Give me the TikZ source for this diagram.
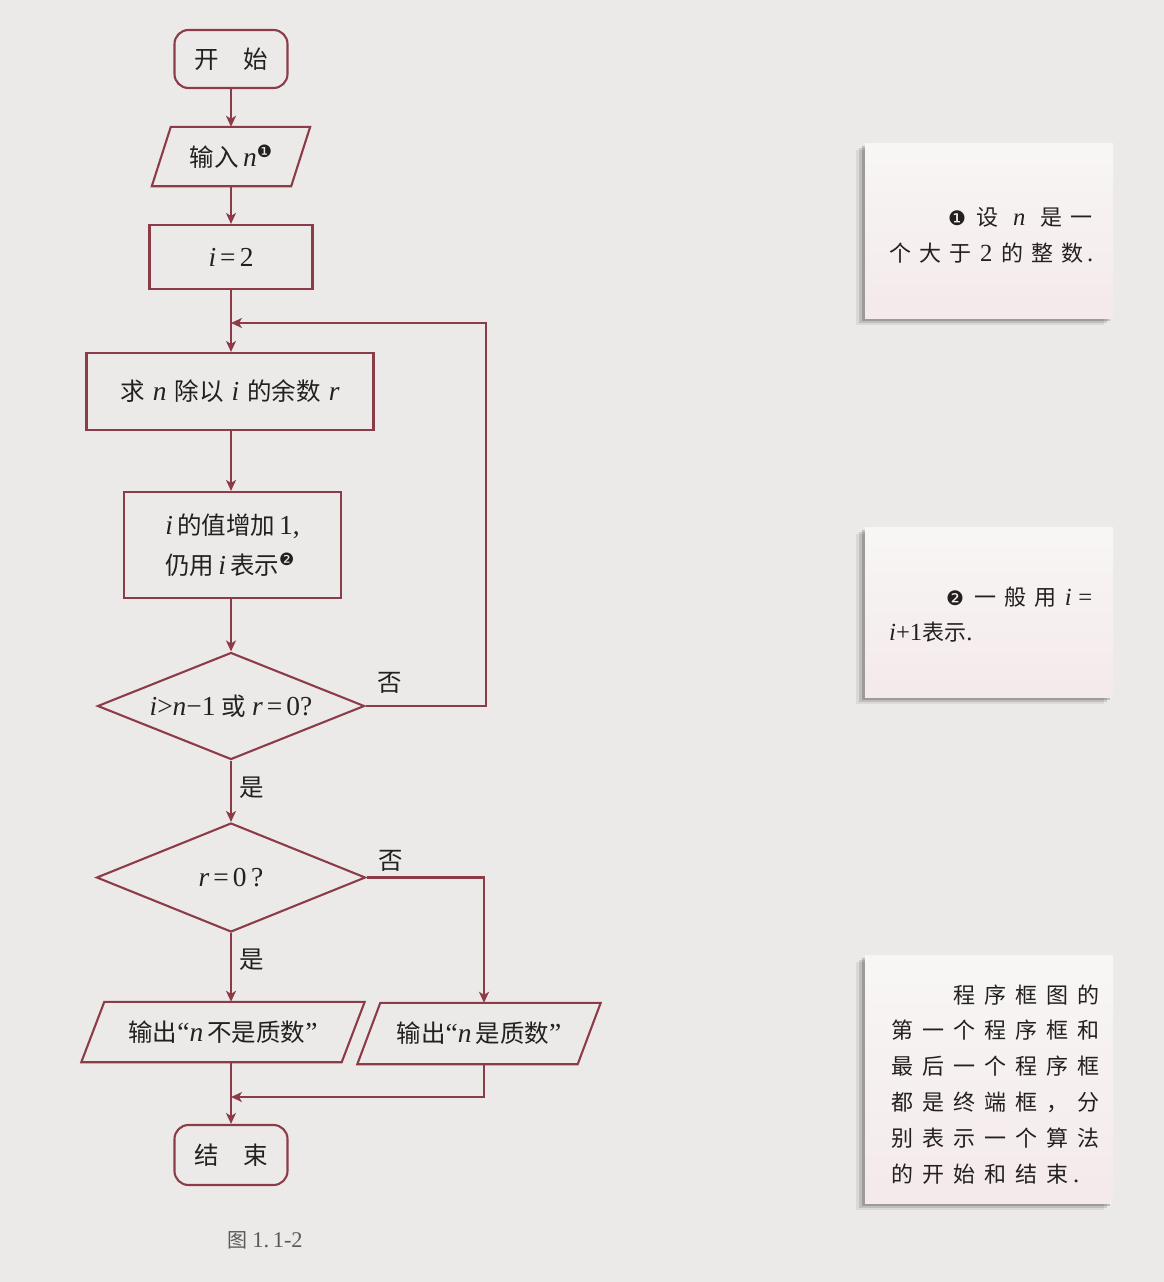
\documentclass[tikz,border=0pt]{standalone}
\usepackage{fontspec}
\setmainfont{Noto Sans CJK SC}
\newfontfamily\lib[Scale=1.12]{Liberation Serif}
\newfontfamily\dv{DejaVu Sans}
\usetikzlibrary{shapes.geometric,arrows.meta,shadows,calc}
\definecolor{ln}{RGB}{140,60,72}
\definecolor{bgc}{RGB}{236,234,232}
\definecolor{txt}{RGB}{35,32,32}
\definecolor{notetop}{RGB}{248,246,245}
\definecolor{notebot}{RGB}{244,233,235}
\newcommand\vr[1]{{\lib\itshape #1}}
\newcommand\lt[1]{{\lib #1}}
\newcommand\cel[2]{\makebox[#1pt]{#2}}
\newcommand\supc[1]{\raisebox{9pt}{\dv\fontsize{17}{17}\selectfont #1}}
\newcommand\boxfont{\fontsize{24.5}{40}\selectfont}
\newcommand\notefont{\fontsize{22}{25}\selectfont}
\newcommand\para[2]{\draw[draw=ln,line width=2.1pt] ($(#1.north west)+(#2/2,0)$) -- ($(#1.north east)+(#2/2,0)$) -- ($(#1.south east)-(#2/2,0)$) -- ($(#1.south west)-(#2/2,0)$) -- cycle;}
\begin{document}
\begin{tikzpicture}[x=1pt,y=-1pt,
  >={Stealth[length=11pt,width=10pt,inset=3pt]},
  box/.style={draw=ln,line width=2.1pt,text=txt,font=\boxfont,inner sep=0pt},
  term/.style={box,rounded corners=14pt,minimum width=113pt,minimum height=58pt},
  proc/.style={box,rectangle},
  dec/.style={box,diamond,aspect=2.5},
  io/.style={draw=none,text=txt,font=\boxfont,inner sep=0pt},
  conn/.style={draw=ln,line width=2.1pt},
  lab/.style={text=txt,font=\boxfont,inner sep=0pt},
  note/.style={draw=none,top color=notetop,bottom color=notebot,
     drop shadow={shadow xshift=-9pt,shadow yshift=-7pt,opacity=0.07,fill=black},
     drop shadow={shadow xshift=-6pt,shadow yshift=-5pt,opacity=0.12,fill=black},
     drop shadow={shadow xshift=-3pt,shadow yshift=-3pt,opacity=0.18,fill=black}},
  ntext/.style={text=txt,font=\notefont,inner sep=0pt,anchor=west}]
\fill[bgc] (0,0) rectangle (1164,1282);

% flowchart nodes
\node[term] (start) at (231,59) {开\hspace{1em}始};
\node[io,minimum width=139pt,minimum height=59pt] (inp) at (231,156.5) {输入\,\vr{n}\supc{❶}};
\para{inp}{19}
\node[proc,minimum width=163pt,minimum height=64pt] (i2) at (231,257) {\vr{i}\,\lt{=}\,\lt{2}};
\node[proc,minimum width=287pt,minimum height=77pt] (rem) at (230,391.5)
  {求\hspace{8pt}\vr{n}\hspace{8pt}除以\hspace{8pt}\vr{i}\hspace{8pt}的余数\hspace{8pt}\vr{r}};
\node[proc,minimum width=217pt,minimum height=106pt,align=left] (inc) at (232.5,545)
  {\vr{i}\,的值增加\,\lt{1,}\\仍用\,\vr{i}\,表示\supc{❷}};
\node[dec,minimum width=267pt,minimum height=107pt] (d1) at (231,706)
  {\vr{i}\lt{>}\vr{n}\lt{−1}\hspace{6pt}或\hspace{6pt}\vr{r}\,\lt{=}\,\lt{0?}};
\node[dec,minimum width=269pt,minimum height=109pt] (d2) at (231,877.5) {\vr{r}\,\lt{=}\,\lt{0\,?}};
\node[io,minimum width=260pt,minimum height=60pt] (o1) at (223,1032) {输出\lt{“}\vr{n}\,不是质数\lt{”}};
\para{o1}{23}
\node[io,minimum width=220pt,minimum height=61pt] (o2) at (479,1033.5) {输出\lt{“}\vr{n}\,是质数\lt{”}};
\para{o2}{23}
\node[term,minimum height=60pt] (end) at (231,1155) {结\hspace{1em}束};

% labels
\node[lab] (no1) at (390,683) {否};
\node[lab] (yes1) at (252,788) {是};
\node[lab] (no2) at (391,861) {否};
\node[lab] (yes2) at (252,960) {是};

% connectors
\draw[conn,->] (start) -- (start |- inp.north);
\draw[conn,->] (inp.south) -- (i2);
\draw[conn,->] (i2) -- (i2 |- rem.north);
\draw[conn,->] (rem.south -| i2) -- (i2 |- inc.north);
\draw[conn,->] (inc.south -| i2) -- (d1);
\draw[conn,->] (d1) -- (d2);
\coordinate (lt) at (486,323);
\draw[conn,->] (d1.east) -| (lt) -- (lt -| i2);
\draw[conn,->] (d2.south) -- (d2.south |- o1.north);
\coordinate (c2) at (484,877.5);
\draw[conn,->] (d2.east) -- (c2) -- (c2 |- o2.north);
\coordinate (mg) at (231,1097);
\draw[conn,->] (c2 |- o2.south) |- (mg);
\draw[conn,->] (o1.south -| mg) -- (end);

% caption
\node[text=black!65,font=\fontsize{20}{22}\selectfont,inner sep=0pt] (cap) at (265,1240) {图\hspace{5pt}\lt{1.\,1-2}};

% notes
\node[note,minimum width=248pt,minimum height=175pt] (note1) at (989,230.5) {};
\node[ntext] (n1a) at (942,217) {\cel{30}{\dv\fontsize{20}{20}\selectfont ❶}\cel{30}{设}\cel{34}{\vr{n}}\cel{30}{是}\cel{30}{一}};
\node[ntext] (n1b) at (885,253) {\cel{30}{个}\cel{30}{大}\cel{30}{于}\cel{22}{\lt{2}}\cel{30}{的}\cel{30}{整}\cel{30}{数}\lt{.}};

\node[note,minimum width=248pt,minimum height=170pt] (note2) at (989,612) {};
\node[ntext] (n2a) at (940,597) {\cel{30}{\dv\fontsize{20}{20}\selectfont ❷}\cel{30}{一}\cel{30}{般}\cel{30}{用}\cel{16}{\vr{i}}\cel{18}{\lt{=}}};
\node[ntext] (n2b) at (889,632) {\vr{i}\lt{+1}表示\lt{.}};

\node[note,minimum width=248pt,minimum height=248pt] (note3) at (989,1079) {};
\node[ntext] (n3a) at (949,995) {\cel{31}{程}\cel{31}{序}\cel{31}{框}\cel{31}{图}\cel{31}{的}};
\node[ntext] (n3b) at (887,1030) {\cel{31}{第}\cel{31}{一}\cel{31}{个}\cel{31}{程}\cel{31}{序}\cel{31}{框}\cel{31}{和}};
\node[ntext] (n3c) at (887,1066) {\cel{31}{最}\cel{31}{后}\cel{31}{一}\cel{31}{个}\cel{31}{程}\cel{31}{序}\cel{31}{框}};
\node[ntext] (n3d) at (887,1102) {\cel{31}{都}\cel{31}{是}\cel{31}{终}\cel{31}{端}\cel{31}{框}\cel{31}{，}\cel{31}{分}};
\node[ntext] (n3e) at (887,1138) {\cel{31}{别}\cel{31}{表}\cel{31}{示}\cel{31}{一}\cel{31}{个}\cel{31}{算}\cel{31}{法}};
\node[ntext] (n3f) at (887,1174) {\cel{31}{的}\cel{31}{开}\cel{31}{始}\cel{31}{和}\cel{31}{结}\cel{31}{束}\lt{.}};
\end{tikzpicture}
\end{document}
